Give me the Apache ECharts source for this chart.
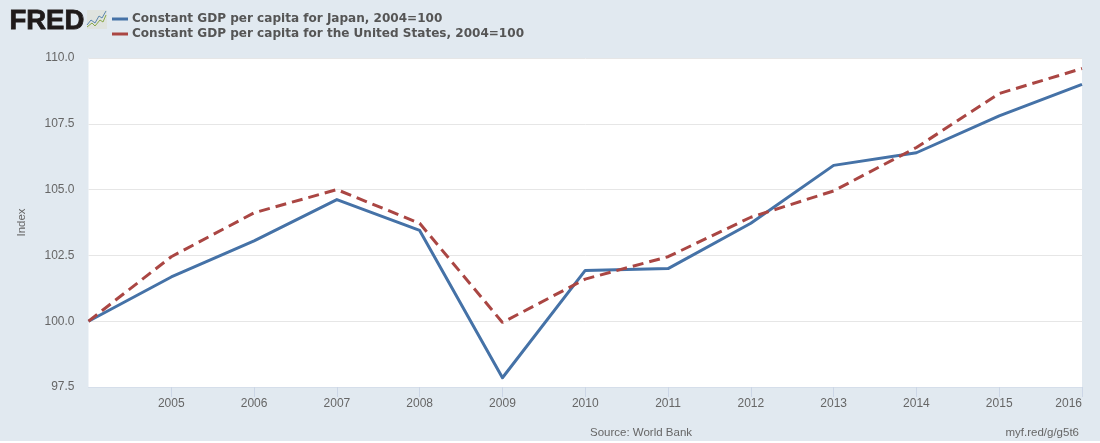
<!DOCTYPE html>
<html><head><meta charset="utf-8">
<style>html,body{margin:0;padding:0;background:#fff}#c{width:1100px;height:443px}</style>
<script src="https://cdn.jsdelivr.net/npm/echarts@6/dist/echarts.min.js"></script>
</head><body><div id="c"></div>
<script>
const years = [2004,2005,2006,2007,2008,2009,2010,2011,2012,2013,2014,2015,2016];
const japan = [100,101.68,103.05,104.62,103.45,97.85,101.93,102.0,103.72,105.92,106.4,107.8,109.0];
const usa = [100,102.45,104.12,105.0,103.72,99.95,101.6,102.45,103.95,104.95,106.6,108.65,109.6];
const nameJapan = 'Constant GDP per capita for Japan, 2004=100';
const nameUsa = 'Constant GDP per capita for the United States, 2004=100';
const font = '"Liberation Sans", Arial, sans-serif';
const chart = echarts.init(document.getElementById('c'), null, {renderer:'canvas'});
chart.setOption({
  animation:false,
  backgroundColor:'#fff',
  grid:{left:88.5,right:18,top:58,bottom:56,backgroundColor:'#fff',show:true,borderWidth:0},
  legend:{
    orient:'vertical',left:112,top:12,padding:0,itemGap:1,itemWidth:16,itemHeight:3,icon:'rect',
    selectedMode:false,
    textStyle:{fontFamily:'"DejaVu Sans",sans-serif',fontWeight:'bold',fontSize:12.05,lineHeight:14,color:'#555',padding:[0,0,0,-1]},
    data:[nameJapan,nameUsa]
  },
  xAxis:{
    type:'value',min:2004,max:2016,interval:1,
    axisLine:{show:true,lineStyle:{color:'#d5deea',width:1}},
    axisTick:{show:true,length:10,customValues:years.slice(1),lineStyle:{color:'#ccd6e6'}},
    splitLine:{show:false},
    axisLabel:{margin:11,fontFamily:font,fontSize:12,color:'#666',
      alignMaxLabel:'right',
      formatter:v=>v===2004?'':String(v)}
  },
  yAxis:{
    type:'value',min:97.5,max:110,interval:2.5,
    name:'Index',nameLocation:'middle',nameGap:61,nameRotate:90,
    nameTextStyle:{fontFamily:font,fontSize:11.5,color:'#666'},
    axisLine:{show:false},axisTick:{show:false},
    splitLine:{lineStyle:{color:'#e6e6e6',width:1}},
    axisLabel:{margin:14,fontFamily:font,fontSize:12,color:'#666',padding:[2,0,0,0],formatter:v=>v.toFixed(1)}
  },
  series:[
    {name:nameJapan,type:'line',data:years.map((y,i)=>[y,japan[i]]),symbol:'none',color:'#4572a7',
      lineStyle:{color:'#4572a7',width:3,join:'round'},z:2},
    {name:nameUsa,type:'line',data:years.map((y,i)=>[y,usa[i]]),symbol:'none',color:'#aa4643',
      lineStyle:{color:'#aa4643',width:3,type:[11,6]},z:3}
  ],
  graphic:[
    {type:'rect',z:-10,silent:true,shape:{x:0,y:0,width:1100,height:441},style:{fill:'#e1e9f0'}},
    {type:'text',left:9,top:7,style:{text:'FRED',fontFamily:'"Liberation Sans",Arial,sans-serif',fontWeight:'bold',fontSize:27.5,fill:'#1f1a1a',stroke:'#1f1a1a',lineWidth:0.8}},
    {type:'rect',z:1,silent:true,shape:{x:87,y:10,width:20,height:19},style:{fill:'#dfe3df'}},
    {type:'polyline',z:2,silent:true,shape:{points:[[87,25],[91,20],[95,23],[99,16],[102,18],[106,11]]},style:{stroke:'#5b86ad',fill:null,lineWidth:1}},
    {type:'polyline',z:2,silent:true,shape:{points:[[87,27],[92,23],[95,26],[100,20],[103,22],[106,15]]},style:{stroke:'#8aa84a',fill:null,lineWidth:1}},
    {type:'text',left:590,top:427,style:{text:'Source: World Bank',fontFamily:font,fontSize:11.5,fill:'#666'}},
    {type:'text',right:21,top:427,style:{text:'myf.red/g/g5t6',fontFamily:font,fontSize:11.5,fill:'#666'}}
  ]
});
</script></body></html>
